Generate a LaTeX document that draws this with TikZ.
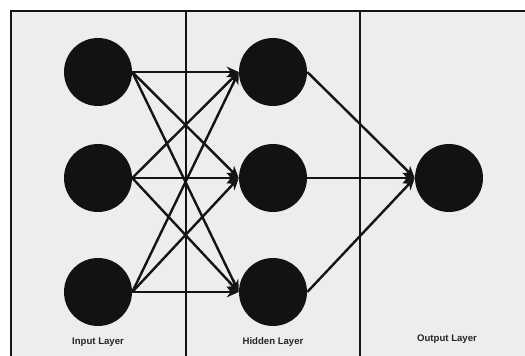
\documentclass[tikz,border=0pt]{standalone}
\usepackage{fontspec}
\setmainfont{Liberation Sans}
\usetikzlibrary{arrows.meta}
\tikzset{
  neuron/.style={circle, fill=black!93, draw=none, minimum size=51pt, inner sep=0pt},
  conn/.style={line width=1.8pt, draw=black!92, -{Stealth[length=9pt,width=8pt]}},
  frameline/.style={line width=1.8pt, draw=black!92},
  layerlabel/.style={font=\bfseries\fontsize{7.2pt}{8pt}\selectfont, text=black!85}
}
\begin{document}
\begin{tikzpicture}[x=0.75pt,y=-0.75pt]
\useasboundingbox (0,0) rectangle (525,356);
\clip (0,0) rectangle (525,356);
\fill[white] (0,0) rectangle (525,356);
\draw[frameline, fill=black!7] (11,11) rectangle (540,370);
\draw[frameline] (186,11) -- (186,370);
\draw[frameline] (360,11) -- (360,370);
\node[neuron] (i1) at (98,72) {};
\node[neuron] (i2) at (98,178) {};
\node[neuron] (i3) at (98,292) {};
\node[neuron] (h1) at (273,72) {};
\node[neuron] (h2) at (273,178) {};
\node[neuron] (h3) at (273,292) {};
\node[neuron] (o) at (449,178) {};
\foreach \a in {i1,i2,i3}{
  \foreach \b in {h1,h2,h3}{
    \draw[conn] (\a.east) -- (\b.west);
  }
}
\foreach \a in {h1,h2,h3}{
  \draw[conn] (\a.east) -- (o.west);
}
\node[layerlabel] (l1) at (98,342) {Input Layer};
\node[layerlabel] (l2) at (273,342) {Hidden Layer};
\node[layerlabel] (l3) at (447,339) {Output Layer};
\end{tikzpicture}
\end{document}
